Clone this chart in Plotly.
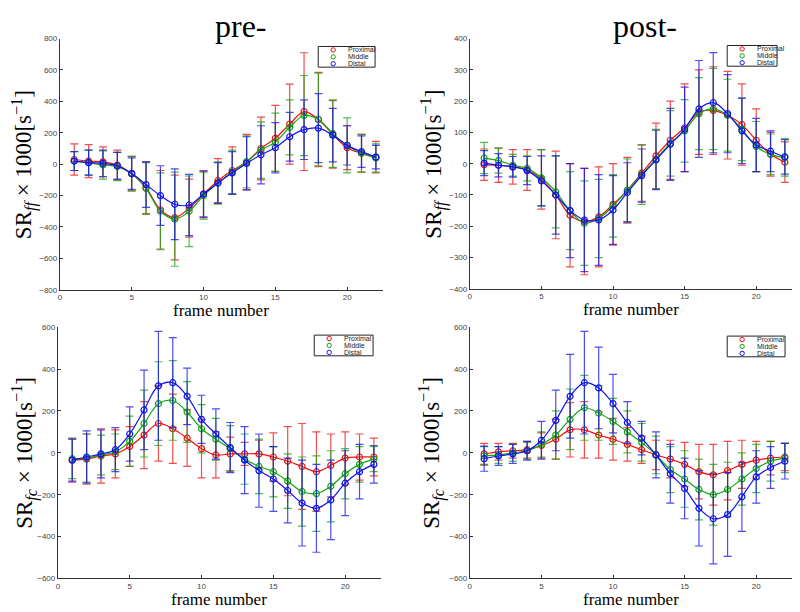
import plotly.graph_objects as go

frames = list(range(1, 23))
series_names = ["Proximal", "Middle", "Distal"]
series_colors = ["#ee1111", "#11a611", "#1111ee"]
bar_colors = ["rgba(238,17,17,0.75)", "rgba(17,166,17,0.75)", "rgba(17,17,238,0.75)"]

# Panel 1: pre-, SR_ff
pre_ff_prox = [30, 20, 15, -5, -60, -150, -290, -340, -280, -190, -105, -40, 15, 100, 165, 255, 335, 285, 190, 105, 70, 45]
pre_ff_prox_sd = [100, 105, 95, 95, 110, 165, 250, 270, 185, 150, 140, 150, 175, 200, 210, 255, 375, 300, 215, 140, 120, 100]
pre_ff_mid = [20, 10, -5, -15, -60, -155, -300, -350, -300, -200, -120, -50, 15, 90, 140, 235, 310, 285, 195, 120, 70, 40]
pre_ff_mid_sd = [60, 80, 90, 90, 110, 165, 245, 300, 225, 150, 135, 140, 165, 180, 185, 175, 255, 295, 215, 175, 120, 90]
pre_ff_dist = [20, 10, 5, -10, -60, -130, -200, -255, -260, -190, -120, -55, 5, 60, 105, 175, 220, 230, 185, 120, 80, 45]
pre_ff_dist_sd = [60, 80, 85, 85, 100, 145, 190, 225, 195, 145, 130, 135, 170, 185, 160, 155, 190, 220, 170, 125, 100, 75]

# Panel 2: post-, SR_ff
post_ff_prox = [-3, -5, -10, -20, -50, -100, -165, -185, -170, -130, -85, -30, 25, 75, 115, 165, 170, 155, 125, 75, 30, 5]
post_ff_prox_sd = [50, 55, 55, 65, 95, 140, 165, 170, 160, 130, 105, 90, 105, 125, 140, 135, 140, 140, 130, 100, 70, 65]
post_ff_mid = [18, 10, -5, -15, -45, -90, -150, -190, -175, -135, -85, -35, 15, 65, 105, 160, 175, 155, 110, 55, 30, 20]
post_ff_mid_sd = [50, 40, 35, 40, 90, 115, 125, 135, 125, 100, 100, 95, 95, 105, 100, 115, 130, 115, 100, 80, 65, 60]
post_ff_dist = [2, -5, -10, -22, -55, -100, -150, -180, -180, -148, -92, -38, 12, 62, 110, 175, 195, 160, 105, 60, 40, 22]
post_ff_dist_sd = [40, 37, 33, 45, 80, 125, 150, 165, 145, 110, 95, 85, 95, 115, 135, 155, 160, 125, 105, 85, 65, 55]

# Panel 3: pre-, SR_fc
pre_fc_prox = [-35, -30, -15, -5, 30, 85, 140, 115, 70, 20, -10, -5, -5, -5, -20, -40, -65, -90, -60, -25, -20, -20]
pre_fc_prox_sd = [105, 120, 130, 115, 95, 160, 180, 165, 135, 140, 110, 80, 55, 65, 115, 165, 205, 190, 150, 125, 110, 90]
pre_fc_mid = [-28, -25, -10, 5, 55, 140, 235, 250, 195, 115, 65, 20, -30, -65, -90, -135, -185, -195, -160, -100, -55, -30]
pre_fc_mid_sd = [95, 115, 95, 85, 120, 160, 200, 190, 145, 115, 100, 110, 120, 130, 120, 130, 165, 180, 170, 120, 85, 60]
pre_fc_dist = [-35, -20, -5, 15, 90, 205, 320, 335, 270, 160, 90, 25, -35, -85, -125, -180, -240, -265, -225, -145, -90, -55]
pre_fc_dist_sd = [100, 125, 115, 105, 130, 190, 260, 215, 135, 115, 120, 120, 160, 175, 155, 155, 205, 210, 190, 155, 130, 90]

# Panel 4: post-, SR_fc
post_fc_prox = [-5, 5, 10, 15, 35, 65, 110, 110, 85, 65, 40, 15, -10, -30, -55, -90, -105, -85, -55, -35, -25, -20]
post_fc_prox_sd = [50, 40, 35, 40, 60, 95, 130, 135, 110, 100, 80, 65, 70, 90, 105, 130, 145, 140, 115, 90, 80, 65]
post_fc_mid = [-15, -10, 0, 10, 40, 85, 160, 215, 190, 150, 100, 50, -10, -80, -125, -175, -200, -175, -125, -75, -40, -25]
post_fc_mid_sd = [45, 40, 40, 40, 60, 115, 145, 155, 130, 110, 100, 90, 90, 110, 135, 145, 145, 130, 125, 115, 95, 70]
post_fc_dist = [-28, -15, -5, 10, 60, 155, 270, 335, 310, 235, 145, 70, -10, -100, -170, -265, -315, -295, -210, -115, -70, -40]
post_fc_dist_sd = [60, 45, 45, 45, 90, 145, 200, 245, 195, 140, 100, 80, 110, 140, 145, 180, 215, 200, 165, 125, 100, 85]

panel_titles = ["pre-", "post-"]
x_label = "frame number"
y_label_ff = "SR<sub><i>ff</i></sub> × 1000[s<sup>−1</sup>]"
y_label_fc = "SR<sub><i>fc</i></sub> × 1000[s<sup>−1</sup>]"
x_ticks = [0, 5, 10, 15, 20]

# page body has an 8px margin, so the figure is 8px smaller and shifted
OFF = 8
W, H = 800 - OFF, 612 - OFF
def px(x): return (x - OFF) / W
def py(y): return 1 - (y - OFF) / H

panels = [
    dict(ax="", data=[(pre_ff_prox, pre_ff_prox_sd), (pre_ff_mid, pre_ff_mid_sd), (pre_ff_dist, pre_ff_dist_sd)],
         box=(58, 382, 35, 290), yr=(-800, 800), dt=200, ylab=y_label_ff, ylx=22, leg=(317, 374, 43, 64)),
    dict(ax="2", data=[(post_ff_prox, post_ff_prox_sd), (post_ff_mid, post_ff_mid_sd), (post_ff_dist, post_ff_dist_sd)],
         box=(469, 792, 35, 289), yr=(-400, 400), dt=100, ylab=y_label_ff, ylx=432, leg=(727, 777, 42, 63)),
    dict(ax="3", data=[(pre_fc_prox, pre_fc_prox_sd), (pre_fc_mid, pre_fc_mid_sd), (pre_fc_dist, pre_fc_dist_sd)],
         box=(56, 380, 328, 583), yr=(-600, 600), dt=200, ylab=y_label_fc, ylx=22, leg=(313, 372, 336, 357)),
    dict(ax="4", data=[(post_fc_prox, post_fc_prox_sd), (post_fc_mid, post_fc_mid_sd), (post_fc_dist, post_fc_dist_sd)],
         box=(469, 792, 328, 583), yr=(-600, 600), dt=200, ylab=y_label_fc, ylx=430, leg=(727, 785, 337, 358)),
]

fig = go.Figure()
layout = dict(width=W, height=H, margin=dict(l=0, r=0, t=0, b=0),
              paper_bgcolor="white", plot_bgcolor="white", showlegend=False)
annotations = []
shapes = []
serif = "Liberation Serif, Times New Roman, serif"
sans = "Liberation Sans, Arial, sans-serif"

for p in panels:
    a = p["ax"]
    x0, x1, y0, y1 = p["box"]
    for i, (vals, sd) in enumerate(p["data"]):
        fig.add_trace(go.Scatter(
            x=frames, y=vals, mode="lines+markers", name=series_names[i],
            xaxis="x" + a, yaxis="y" + a,
            line=dict(color=series_colors[i], width=1.2, shape="spline", smoothing=1.0),
            marker=dict(symbol="circle-open", size=6, color=series_colors[i], line=dict(width=1.2)),
            error_y=dict(type="data", array=sd, visible=True, color=bar_colors[i], thickness=1.2, width=4),
        ))
    lo, hi = p["yr"]
    axis_common = dict(showgrid=False, zeroline=False, showline=True, linecolor="#333", linewidth=1,
                       ticks="inside", ticklen=3, tickcolor="#333",
                       tickfont=dict(family=sans, size=8, color="#444"))
    layout["xaxis" + a] = dict(domain=[px(x0), px(x1)], anchor="y" + a, range=[0, 22.5],
                               tickvals=x_ticks, **axis_common)
    layout["yaxis" + a] = dict(domain=[py(y1), py(y0)], anchor="x" + a, range=[lo, hi],
                               tickmode="linear", tick0=lo, dtick=p["dt"], **axis_common)
    # y label
    annotations.append(dict(x=px(p["ylx"]), y=py((y0 + y1) / 2), xref="paper", yref="paper",
                            xanchor="center", yanchor="middle",
                            text=p["ylab"], textangle=-90, showarrow=False,
                            font=dict(family=serif, size=23, color="black")))
    # x label
    annotations.append(dict(x=px((x0 + x1) / 2), y=py(y1 + 21), xref="paper", yref="paper",
                            xanchor="center", yanchor="middle",
                            text=x_label, showarrow=False, font=dict(family=serif, size=17, color="black")))
    # legend box
    lx0, lx1, ly0, ly1 = p["leg"]
    shapes.append(dict(type="rect", xref="paper", yref="paper", x0=px(lx0), x1=px(lx1), y0=py(ly1), y1=py(ly0),
                       line=dict(color="#222", width=1), fillcolor="white"))
    rowh = (ly1 - ly0) / 3
    for i, nm in enumerate(series_names):
        cy = ly0 + rowh * (i + 0.5)
        cx = lx0 + 15
        shapes.append(dict(type="circle", xref="paper", yref="paper",
                           x0=px(cx - 2.2), x1=px(cx + 2.2), y0=py(cy + 2.2), y1=py(cy - 2.2),
                           line=dict(color=series_colors[i], width=1)))
        annotations.append(dict(x=px(lx0 + 28), y=py(cy), xref="paper", yref="paper", xanchor="left",
                                yanchor="middle", text=nm, showarrow=False,
                                font=dict(family=sans, size=7, color="#222")))

# column titles
annotations.append(dict(x=px(240), y=py(22), xref="paper", yref="paper", xanchor="center", yanchor="middle",
                        text=panel_titles[0], showarrow=False, font=dict(family=serif, size=32, color="black")))
annotations.append(dict(x=px(645), y=py(22), xref="paper", yref="paper", xanchor="center", yanchor="middle",
                        text=panel_titles[1], showarrow=False, font=dict(family=serif, size=32, color="black")))

layout["annotations"] = annotations
layout["shapes"] = shapes
fig.update_layout(**layout)
fig.write_html("out.html")
